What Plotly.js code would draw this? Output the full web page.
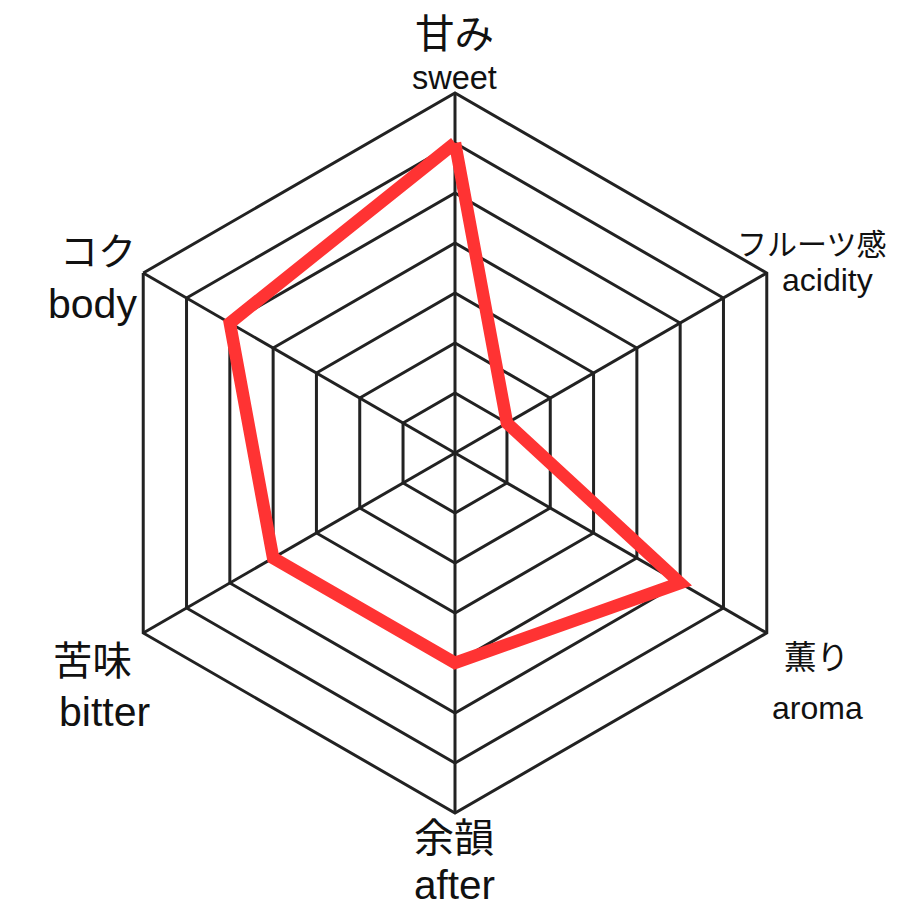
<!DOCTYPE html>
<html>
<head>
<meta charset="utf-8">
<script src="https://cdn.plot.ly/plotly-3.0.1.min.js"></script>
<style>
  html, body { margin: 0; padding: 0; background: #fff; }
  #radar { width: 920px; height: 920px; }
</style>
</head>
<body>
<div id="radar"></div>
<script>
// taste profile, one value per axis (0-7 scale)
var axes = ['sweet', 'acidity', 'aroma', 'after', 'bitter', 'body'];
var jpLabels = ['甘み', 'フルーツ感', '薫り', '余韻', '苦味', 'コク'];
var scores = [6, 1, 5, 4, 4, 5];
var levels = [1, 2, 3, 4, 5, 6, 7];

var W = 920;
var font = 'Liberation Sans, Arial, Noto Sans CJK JP, sans-serif';

// label placement (pixel centers) for [jp, en] and font sizes
var labelPos = [
    {x: 454, jy: 34,  ey: 78,  js: 39.5, es: 32.5},
    {x: 811, jy: 245, ey: 280, js: 30,   es: 32, ex: 827},
    {x: 816, jy: 658, ey: 708, js: 32.5, es: 32, ex: 817},
    {x: 454, jy: 838, ey: 885, js: 40,   es: 40.5},
    {x: 92,  jy: 661, ey: 712, js: 39.5, es: 41, ex: 104},
    {x: 98,  jy: 252, ey: 304, js: 38,   es: 41, ex: 92}
];

var r = scores.concat([scores[0]]);
var theta = axes.concat([axes[0]]);

var data = [{
    type: 'scatterpolar',
    r: r,
    theta: theta,
    mode: 'lines',
    line: {color: '#ff3333', width: 12.5},
    hoverinfo: 'skip'
}];

var annotations = [];
for (var i in axes) {
    var p = labelPos[i];
    annotations.push({
        xref: 'paper', yref: 'paper', x: p.x / W, y: 1 - p.jy / W,
        xanchor: 'center', yanchor: 'middle', showarrow: false,
        text: jpLabels[i], font: {family: font, size: p.js, color: '#111'}
    });
    annotations.push({
        xref: 'paper', yref: 'paper', x: (p.ex || p.x) / W, y: 1 - p.ey / W,
        xanchor: 'center', yanchor: 'middle', showarrow: false,
        text: axes[i], font: {family: font, size: p.es, color: '#111'}
    });
}

var layout = {
    width: 920,
    height: 920,
    margin: {l: 0, r: 0, t: 0, b: 0},
    paper_bgcolor: '#fff',
    showlegend: false,
    polar: {
        domain: {x: [95 / W, 815 / W], y: [107 / W, 827 / W]},
        bgcolor: '#fff',
        gridshape: 'linear',
        radialaxis: {
            range: [-0.2, 7],
            tickvals: levels,
            showticklabels: false,
            ticks: '',
            showline: false,
            gridcolor: '#222',
            gridwidth: 3
        },
        angularaxis: {
            type: 'category',
            categoryarray: axes,
            direction: 'clockwise',
            rotation: 90,
            showticklabels: false,
            ticks: '',
            showline: true,
            linecolor: '#222',
            linewidth: 3,
            gridcolor: '#222',
            gridwidth: 3
        }
    },
    annotations: annotations
};

Plotly.newPlot('radar', data, layout, {displayModeBar: false, staticPlot: true});
</script>
</body>
</html>
